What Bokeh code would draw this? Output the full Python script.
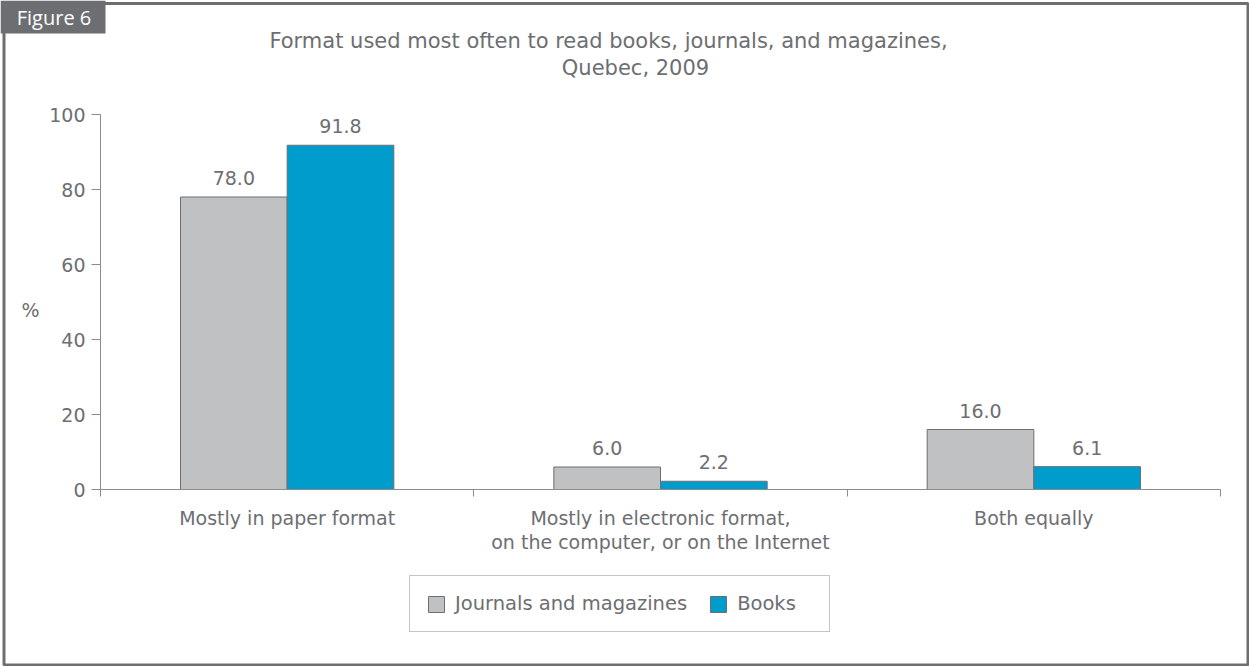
from bokeh.plotting import figure
from bokeh.models import (Range1d, FixedTicker, Label, LabelSet, BoxAnnotation,
                          Legend, LegendItem, ColumnDataSource, LinearAxis)
from bokeh.core.properties import value
from bokeh.embed import file_html
from bokeh.resources import INLINE

# ---------------- data ----------------
categories = ["Mostly in paper format",
              "Mostly in electronic format,\non the computer, or on the Internet",
              "Both equally"]
series_names = ["Journals and magazines", "Books"]
journals = [78.0, 6.0, 16.0]
books = [91.8, 2.2, 6.1]
y_ticks = [0, 20, 40, 60, 80, 100]
title_lines = ["Format used most often to read books, journals, and magazines,",
               "Quebec, 2009"]
figure_tag = "Figure 6"
y_label = "%"

# ---------------- layout / style ----------------
W, H = 1249, 666
PL, PR, PT, PB = 100, 1220, 114, 489        # plot-area edges in canvas pixels
FONT = "DejaVu Sans"
TXT = "#6d6e71"
GRID = "#8c8c8c"
GRAY = "#c0c1c3"
BLUE = "#009ccc"
EDGE = "#6d6e71"

n = len(categories)
y0, y1 = y_ticks[0], y_ticks[-1]
xpx = (PR - PL) / n            # pixels per x unit
ypx = (PB - PT) / (y1 - y0)    # pixels per y unit
x_range = Range1d(-PL / xpx, n + (W - PR) / xpx)
y_range = Range1d(y0 - (H - PB) / ypx, y1 + PT / ypx)

p = figure(width=W, height=H, output_backend="svg", toolbar_location=None,
           x_range=x_range, y_range=y_range, x_axis_type=None, y_axis_type=None,
           min_border=0)
p.title.visible = False
p.background_fill_color = "white"
p.border_fill_color = "white"
p.outline_line_color = None

bw = 2 / 7
xs = [i + 0.5 for i in range(n)]
src_j = ColumnDataSource(dict(x=[x - bw / 2 for x in xs], top=journals,
                              lab=[f"{v:.1f}" for v in journals]))
src_b = ColumnDataSource(dict(x=[x + bw / 2 for x in xs], top=books,
                              lab=[f"{v:.1f}" for v in books]))

# grid (bounded to plot area), incl. right border of plot area
p.ygrid.ticker = FixedTicker(ticks=y_ticks[1:])
p.ygrid.bounds = (0, n)
p.ygrid.grid_line_color = GRID
p.xgrid.ticker = FixedTicker(ticks=[n])
p.xgrid.bounds = (y0, y1)
p.xgrid.grid_line_color = GRID

rj = p.vbar(x="x", top="top", width=bw, source=src_j, fill_color=GRAY,
            line_color=EDGE, line_width=1)
rb = p.vbar(x="x", top="top", width=bw, source=src_b, fill_color=BLUE,
            line_color=EDGE, line_width=1)

for s in (src_j, src_b):
    p.add_layout(LabelSet(x="x", y="top", text="lab", source=s, y_offset=12,
                          text_align="center", text_baseline="alphabetic",
                          text_font=value(FONT), text_font_size="19px", text_color=TXT))

# y axis
ya = LinearAxis(fixed_location=0, bounds=(y0, y1), ticker=FixedTicker(ticks=y_ticks))
ya.axis_line_color = GRID
ya.major_tick_line_color = GRID
ya.major_tick_out = 9
ya.major_tick_in = 0
ya.minor_tick_line_color = None
ya.major_label_standoff = 6
ya.major_label_text_font = FONT
ya.major_label_text_font_size = "19px"
ya.major_label_text_color = TXT
p.add_layout(ya, "left")

# x axis: labels at category centres, tick marks at category boundaries
xa = LinearAxis(fixed_location=y0, bounds=(0, n),
                ticker=FixedTicker(ticks=xs, minor_ticks=list(range(n + 1))))
xa.major_label_overrides = {x: c for x, c in zip(xs, categories)}
xa.axis_line_color = GRID
xa.major_tick_line_color = None
xa.major_tick_out = 0
xa.major_tick_in = 0
xa.minor_tick_line_color = GRID
xa.minor_tick_out = 7
xa.minor_tick_in = 0
xa.major_label_standoff = 10
xa.major_label_text_font = FONT
xa.major_label_text_font_size = "19px"
xa.major_label_text_color = TXT
xa.major_label_text_line_height = 1.1
p.add_layout(xa, "below")

# legend
legend = Legend(items=[LegendItem(label=series_names[0], renderers=[rj]),
                       LegendItem(label=series_names[1], renderers=[rb])],
                location=(409, H - 632), orientation="horizontal",
                border_line_color=GRID, border_line_width=1,
                background_fill_color="white", background_fill_alpha=1,
                glyph_width=20, glyph_height=20, label_standoff=9, spacing=21,
                label_width=76, padding=16, margin=0, label_text_font=FONT,
                label_text_font_size="19.5px", label_text_color=TXT)
p.add_layout(legend)

# outer frame and figure tag
p.add_layout(BoxAnnotation(left=3.5, right=W - 1.5, top=H - 3, bottom=1.5,
                           left_units="screen", right_units="screen",
                           top_units="screen", bottom_units="screen",
                           fill_color=None, line_color=EDGE, line_alpha=1, line_width=3))
p.add_layout(BoxAnnotation(left=0, right=105, top=H, bottom=H - 33,
                           left_units="screen", right_units="screen",
                           top_units="screen", bottom_units="screen",
                           fill_color=EDGE, fill_alpha=1, line_color=None))
p.add_layout(Label(x=53.5, y=H - 17, x_units="screen", y_units="screen",
                   text=figure_tag, text_align="center", text_baseline="middle",
                   text_font="Open Sans", text_font_size="20px", text_color="white"))

# title
p.add_layout(Label(x=608, y=H - 40, x_units="screen", y_units="screen",
                   text=title_lines[0], text_align="center", text_baseline="alphabetic",
                   text_font=FONT, text_font_size="21px", text_color=TXT))
p.add_layout(Label(x=635, y=H - 67, x_units="screen", y_units="screen",
                   text=title_lines[1], text_align="center", text_baseline="alphabetic",
                   text_font=FONT, text_font_size="21px", text_color=TXT))

# y label
p.add_layout(Label(x=30, y=H - 309, x_units="screen", y_units="screen",
                   text=y_label, text_align="center", text_baseline="middle",
                   text_font=FONT, text_font_size="19px", text_color=TXT))

open("out.html", "w").write(file_html(p, INLINE))
